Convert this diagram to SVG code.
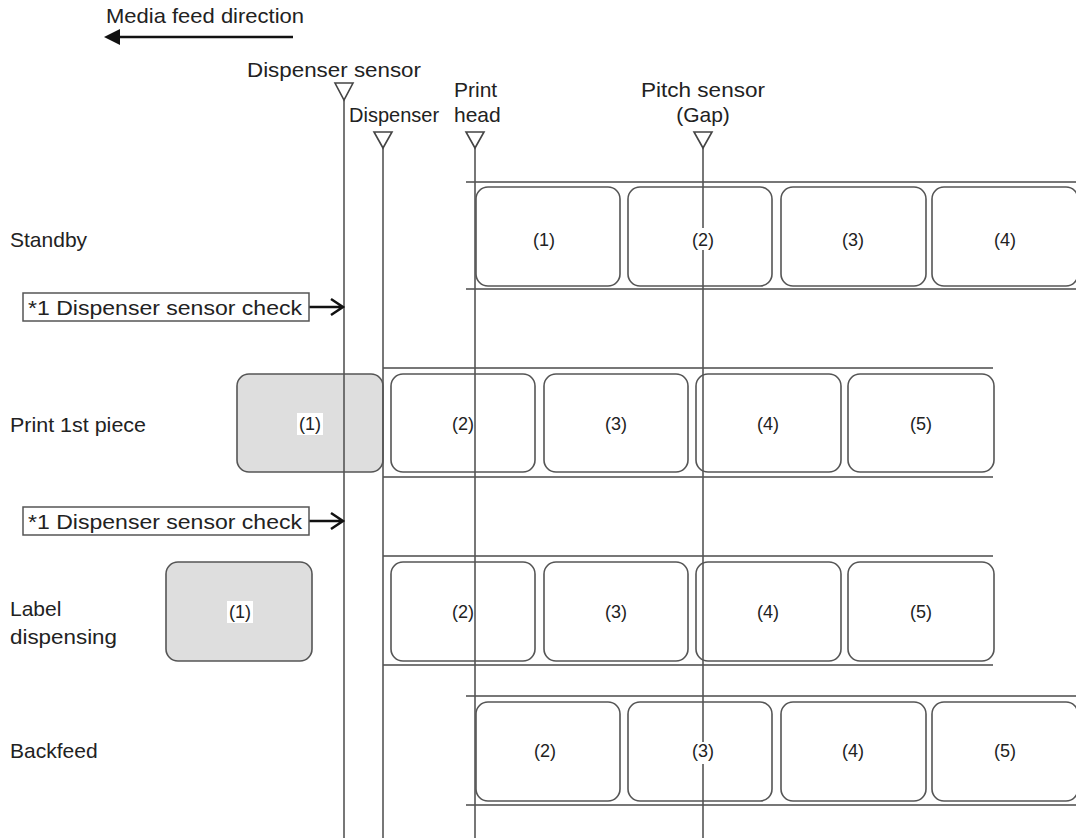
<svg xmlns="http://www.w3.org/2000/svg" width="1076" height="838" viewBox="0 0 1076 838">
<style>
text{font-family:"Liberation Sans",Arial,sans-serif;fill:#222}
.lbl{font-size:21px}
.num{font-size:18px;text-anchor:middle}
.media{stroke:#777;stroke-width:2;fill:none}
.box{fill:#fff;stroke:#555;stroke-width:1.6}
.gbox{fill:#dedede;stroke:#555;stroke-width:1.6}
.vl{stroke:#555;stroke-width:1.6;fill:none}
.tri{fill:#fff;stroke:#444;stroke-width:1.6}
.bg{fill:#fff}
.chk{fill:#fff;stroke:#555;stroke-width:1.5}
.arr{stroke:#111;stroke-width:2.5;fill:none}
</style>
<g id="media-feed">
<text class="lbl" x="106" y="23" textLength="198" lengthAdjust="spacingAndGlyphs">Media feed direction</text>
<line x1="118" y1="37" x2="293" y2="37" stroke="#111" stroke-width="2.5"/>
<polygon points="104,37 120,29 120,45" fill="#111"/>
</g>
<g id="sensor-labels">
<text class="lbl" x="247" y="77" textLength="174" lengthAdjust="spacingAndGlyphs">Dispenser sensor</text>
<text x="349" y="122" font-size="20">Dispenser</text>
<text class="lbl" x="454" y="97">Print</text>
<text class="lbl" x="454" y="122">head</text>
<text class="lbl" x="641" y="97" textLength="124" lengthAdjust="spacingAndGlyphs">Pitch sensor</text>
<text class="lbl" x="703" y="122" text-anchor="middle">(Gap)</text>
</g>
<g id="row-labels">
<text class="lbl" x="10" y="247">Standby</text>
<text class="lbl" x="10" y="432" textLength="136" lengthAdjust="spacingAndGlyphs">Print 1st piece</text>
<text class="lbl" x="10" y="616">Label</text>
<text class="lbl" x="10" y="644" textLength="107" lengthAdjust="spacingAndGlyphs">dispensing</text>
<text class="lbl" x="10" y="758">Backfeed</text>
</g>
<g id="media-lines">
<line class="media" x1="466" y1="182" x2="1076" y2="182"/>
<line class="media" x1="466" y1="289" x2="1076" y2="289"/>
<line class="media" x1="383" y1="368" x2="993" y2="368"/>
<line class="media" x1="383" y1="477" x2="993" y2="477"/>
<line class="media" x1="383" y1="556" x2="993" y2="556"/>
<line class="media" x1="383" y1="665" x2="993" y2="665"/>
<line class="media" x1="466" y1="696" x2="1076" y2="696"/>
<line class="media" x1="466" y1="805" x2="1076" y2="805"/>
</g>
<g id="standby-labels">
<rect class="box" x="476" y="187" width="144" height="99" rx="12"/>
<rect class="box" x="628" y="187" width="144" height="99" rx="12"/>
<rect class="box" x="781" y="187" width="145" height="99" rx="12"/>
<rect class="box" x="932" y="187" width="146" height="99" rx="12"/>
</g>
<g id="print-labels">
<rect class="gbox" x="237" y="374" width="146" height="98" rx="12"/>
<rect class="box" x="391" y="374" width="144" height="98" rx="12"/>
<rect class="box" x="544" y="374" width="144" height="98" rx="12"/>
<rect class="box" x="696" y="374" width="145" height="98" rx="12"/>
<rect class="box" x="848" y="374" width="146" height="98" rx="12"/>
</g>
<g id="dispensing-labels">
<rect class="gbox" x="166" y="562" width="146" height="99" rx="12"/>
<rect class="box" x="391" y="562" width="144" height="99" rx="12"/>
<rect class="box" x="544" y="562" width="144" height="99" rx="12"/>
<rect class="box" x="696" y="562" width="145" height="99" rx="12"/>
<rect class="box" x="848" y="562" width="146" height="99" rx="12"/>
</g>
<g id="backfeed-labels">
<rect class="box" x="476" y="702" width="144" height="99" rx="12"/>
<rect class="box" x="628" y="702" width="144" height="99" rx="12"/>
<rect class="box" x="781" y="702" width="145" height="99" rx="12"/>
<rect class="box" x="932" y="702" width="146" height="99" rx="12"/>
</g>
<g id="connectors">
<line class="vl" x1="344" y1="100" x2="344" y2="838"/>
<line class="vl" x1="383" y1="148" x2="383" y2="838"/>
<line class="vl" x1="475" y1="148" x2="475" y2="838"/>
<line class="vl" x1="703" y1="148" x2="703" y2="838"/>
<polygon class="tri" points="335,83 353,83 344,100"/>
<polygon class="tri" points="374,132 392,132 383,148"/>
<polygon class="tri" points="466,132 484,132 475,148"/>
<polygon class="tri" points="694,132 712,132 703,148"/>
<path class="arr" d="M309 307 H342 M331 299 L343 307 L331 315"/>
<path class="arr" d="M309 521 H342 M331 513 L343 521 L331 529"/>
</g>
<g id="check-1">
<rect class="chk" x="23" y="293" width="286" height="28"/>
<text class="lbl" x="28" y="315" textLength="274" lengthAdjust="spacingAndGlyphs">*1 Dispenser sensor check</text>
</g>
<g id="check-2">
<rect class="chk" x="23" y="507" width="286" height="28"/>
<text class="lbl" x="28" y="529" textLength="274" lengthAdjust="spacingAndGlyphs">*1 Dispenser sensor check</text>
</g>
<g id="numbers">
<rect class="bg" x="690" y="228" width="26" height="22"/>
<text class="num" x="544" y="246">(1)</text>
<text class="num" x="703" y="246">(2)</text>
<text class="num" x="853" y="246">(3)</text>
<text class="num" x="1005" y="246">(4)</text>
<rect class="bg" x="297" y="413" width="26" height="22"/>
<text class="num" x="310" y="430">(1)</text>
<text class="num" x="463" y="430">(2)</text>
<text class="num" x="616" y="430">(3)</text>
<text class="num" x="768" y="430">(4)</text>
<text class="num" x="921" y="430">(5)</text>
<rect class="bg" x="227" y="601" width="26" height="22"/>
<text class="num" x="240" y="618">(1)</text>
<text class="num" x="463" y="618">(2)</text>
<text class="num" x="616" y="618">(3)</text>
<text class="num" x="768" y="618">(4)</text>
<text class="num" x="921" y="618">(5)</text>
<text class="num" x="545" y="757">(2)</text>
<rect class="bg" x="690" y="742" width="26" height="22"/>
<text class="num" x="703" y="757">(3)</text>
<text class="num" x="853" y="757">(4)</text>
<text class="num" x="1005" y="757">(5)</text>
</g>
</svg>
